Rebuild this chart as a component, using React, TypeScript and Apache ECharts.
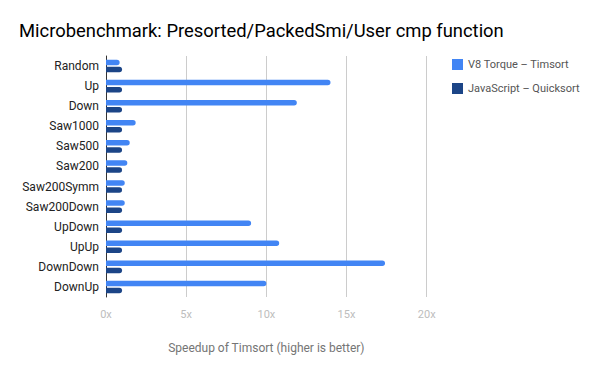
import React, { useEffect, useRef } from "react";
import * as echarts from "echarts";

const categories = ["Random", "Up", "Down", "Saw1000", "Saw500", "Saw200", "Saw200Symm", "Saw200Down", "UpDown", "UpUp", "DownDown", "DownUp"];
const torqueTimsort = [0.85, 14.0, 11.9, 1.85, 1.48, 1.33, 1.17, 1.17, 9.05, 10.8, 17.4, 10.0];
const jsQuicksort = [1, 1, 1, 1, 1, 1, 1, 1, 1, 1, 1, 1];
const xTicks = [0, 5, 10, 15, 20];

export default function App() {
  const ref = useRef<HTMLDivElement>(null);
  useEffect(() => {
    if (!ref.current) return;
    const chart = echarts.init(ref.current, null, { renderer: "svg" });
    chart.setOption({
      animation: false,
      backgroundColor: "#ffffff",
      textStyle: { fontFamily: "Roboto" },
      title: {
        text: "Microbenchmark: Presorted/PackedSmi/User cmp function",
        left: 14,
        top: 16,
        textStyle: { fontSize: 18.4, fontWeight: "normal", color: "#000000", fontFamily: "Roboto" },
      },
      legend: {
        orient: "vertical",
        left: 447,
        top: 54,
        itemWidth: 11,
        itemHeight: 11,
        itemGap: 13,
        icon: "rect",
        textStyle: { fontSize: 11, color: "#555555", fontFamily: "Roboto" },
        data: ["V8 Torque – Timsort", "JavaScript – Quicksort"],
      },
      grid: { left: 106, right: 173.3, top: 56, bottom: 74 },
      xAxis: {
        type: "value",
        min: xTicks[0],
        max: xTicks[xTicks.length - 1],
        interval: 5,
        name: "Speedup of Timsort (higher is better)",
        nameLocation: "middle",
        nameGap: 45,
        nameTextStyle: { fontSize: 12, color: "#757575", fontFamily: "Roboto" },
        axisLine: { show: false },
        axisTick: { show: false },
        splitLine: { show: true, lineStyle: { color: "#cccccc", width: 1 } },
        axisLabel: { formatter: (v: number) => v + "x", color: "#bdbdbd", fontSize: 11, margin: 12 },
      },
      yAxis: {
        type: "category",
        data: categories,
        inverse: true,
        axisLine: { show: true, lineStyle: { color: "#333333", width: 1 } },
        axisTick: { show: false },
        axisLabel: { color: "#222222", fontSize: 12, margin: 7 },
      },
      series: [
        {
          name: "V8 Torque – Timsort",
          type: "bar",
          data: torqueTimsort,
          barWidth: 5.5,
          barGap: "30%",
          itemStyle: { color: "#4285f4", borderRadius: [0, 3, 3, 0] },
        },
        {
          name: "JavaScript – Quicksort",
          type: "bar",
          data: jsQuicksort,
          barWidth: 5.5,
          itemStyle: { color: "#1c4587", borderRadius: [0, 3, 3, 0] },
        },
      ],
    });
    return () => chart.dispose();
  }, []);
  return <div ref={ref} style={{ width: 600, height: 371, margin: -8 }} />;
}
